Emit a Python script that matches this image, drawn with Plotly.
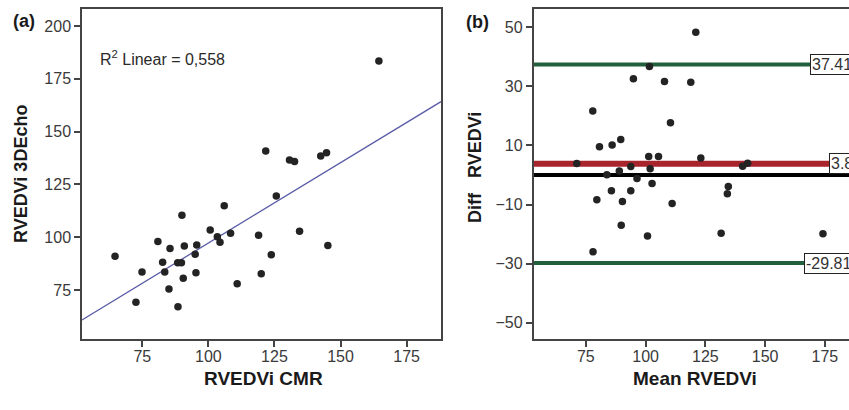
import numpy as np
import plotly.graph_objects as go

# ---- Panel (a): RVEDVi CMR vs RVEDVi 3DEcho ----
cmr_vals = [164.5, 121.7, 130.7, 132.6, 142.5, 144.7, 125.7, 106.0, 90.0, 100.7,
            103.4, 104.4, 108.4, 119.0, 134.5, 145.2, 123.8, 120.0, 110.9, 80.9,
            85.5, 90.9, 95.6, 95.0, 64.7, 82.7, 88.4, 89.8, 74.9, 83.5,
            95.3, 90.5, 85.1, 72.6, 88.5]
echo_vals = [183.4, 140.8, 136.5, 135.8, 138.4, 140.0, 119.5, 114.9, 110.4, 103.4,
             100.2, 97.6, 101.8, 100.9, 102.8, 96.0, 91.7, 82.7, 78.0, 98.0,
             94.6, 95.8, 96.3, 91.9, 91.0, 88.1, 87.9, 87.9, 83.5, 83.5,
             83.2, 80.5, 75.5, 69.2, 67.1]
r2_label = "R<sup>2</sup> Linear = 0,558"

# ---- Panel (b): Bland-Altman ----
mean_vals = [121.0, 101.6, 94.9, 107.9, 118.9, 77.9, 110.4, 89.6, 80.7, 86.0,
             101.3, 105.4, 123.1, 71.2, 93.8, 101.9, 140.6, 142.7, 89.0, 83.8,
             96.4, 102.7, 134.6, 134.2, 85.7, 93.8, 79.6, 90.3, 111.1, 89.8,
             100.8, 131.6, 174.2, 78.0]
diff_vals = [48.3, 36.7, 32.6, 31.7, 31.4, 21.7, 17.7, 12.0, 9.6, 10.2,
             6.3, 6.3, 5.8, 3.9, 2.9, 2.1, 3.0, 4.0, 1.4, 0.1,
             -1.2, -2.9, -3.9, -6.3, -5.3, -5.3, -8.4, -9.0, -9.6, -17.0,
             -20.6, -19.7, -19.9, -26.0]
upper_loa = 37.41
mean_diff = 3.8
lower_loa = -29.81
zero_line = 0
loa_labels = ["37.41", "3.8", "-29.81"]

# axis ticks
a_xticks = [75, 100, 125, 150, 175]
a_yticks = [75, 100, 125, 150, 175, 200]
b_xticks = [75, 100, 125, 150, 175]
b_yticks = [50, 30, 10, -10, -30, -50]
a_xrange = [52.2, 188.0]
a_yrange = [51.8, 208.0]
b_xrange = [53.1, 185.1]
b_yrange = [-55.5, 56.2]

W, H = 849, 410
ML, MR, MT, MB = 0, 0, 9, 71
PH = H - MT - MB

def px(xp):
    return xp / W

def py(yp):
    return (H - MB - yp) / PH

fig = go.Figure()

# regression line (least squares fit of panel a data)
slope, intercept = np.polyfit(cmr_vals, echo_vals, 1)
fit_x = np.array(a_xrange)
fig.add_trace(go.Scatter(x=fit_x, y=slope * fit_x + intercept, mode="lines",
                         line=dict(color="#5a5ca8", width=1.3),
                         xaxis="x", yaxis="y", hoverinfo="skip"))
fig.add_trace(go.Scatter(x=cmr_vals, y=echo_vals, mode="markers",
                         marker=dict(color="#232323", size=7.5),
                         xaxis="x", yaxis="y"))

# Bland-Altman lines
for val, col, w in [(upper_loa, "#22603c", 4), (lower_loa, "#22603c", 4),
                    (mean_diff, "#a8252e", 6), (zero_line, "#000000", 4)]:
    fig.add_trace(go.Scatter(x=b_xrange, y=[val, val], mode="lines",
                             line=dict(color=col, width=w),
                             xaxis="x2", yaxis="y2", hoverinfo="skip"))
fig.add_trace(go.Scatter(x=mean_vals, y=diff_vals, mode="markers",
                         marker=dict(color="#232323", size=7.5),
                         xaxis="x2", yaxis="y2", cliponaxis=False))

tickfont = dict(family="Liberation Sans, Arial", size=16, color="#3a3a3a")
axcommon = dict(showgrid=False, zeroline=False, showline=True, linecolor="#444",
                linewidth=1.5, ticks="outside", ticklen=6, tickwidth=1.5,
                tickcolor="#444", tickfont=tickfont)

fig.update_layout(
    width=W, height=H,
    margin=dict(l=ML, r=MR, t=MT, b=MB),
    paper_bgcolor="white", plot_bgcolor="white",
    showlegend=False,
    xaxis=dict(domain=[px(82), px(441)], range=a_xrange, tickvals=a_xticks,
               mirror=True, anchor="y", ticklabelstandoff=-4, **axcommon),
    yaxis=dict(domain=[0, 1], range=a_yrange, tickvals=a_yticks,
               mirror=True, anchor="x", **axcommon),
    xaxis2=dict(domain=[px(533.5), 1.0], range=b_xrange, tickvals=b_xticks,
                mirror=True, anchor="y2", ticklabelstandoff=-4, **axcommon),
    yaxis2=dict(domain=[0, 1], range=b_yrange, tickvals=b_yticks,
                mirror=False, anchor="x2", **axcommon),
)

bold = dict(family="Liberation Sans, Arial", size=19, color="#1a1a1a")
ann = []
ann.append(dict(text="<b>(a)</b>", x=px(11), y=py(21), xref="paper", yref="paper",
                xanchor="left", yanchor="middle", showarrow=False,
                font=dict(family="Liberation Sans, Arial", size=18, color="#1a1a1a")))
ann.append(dict(text="<b>(b)</b>", x=px(464), y=py(22), xref="paper", yref="paper",
                xanchor="left", yanchor="middle", showarrow=False,
                font=dict(family="Liberation Sans, Arial", size=18, color="#1a1a1a")))
ann.append(dict(text="<b>RVEDVi CMR</b>", x=px(263), y=py(379), xref="paper", yref="paper",
                xanchor="center", yanchor="middle", showarrow=False, font=bold))
ann.append(dict(text="<b>Mean RVEDVi</b>", x=px(695), y=py(379), xref="paper", yref="paper",
                xanchor="center", yanchor="middle", showarrow=False, font=bold))
ann.append(dict(text="<b>RVEDVi 3DEcho</b>", x=px(21), y=py(174), xref="paper", yref="paper",
                xanchor="center", yanchor="middle", textangle=-90, showarrow=False,
                font=dict(family="Liberation Sans, Arial", size=18, color="#1a1a1a")))
ann.append(dict(text="<b>Diff\u00a0\u00a0\u00a0RVEDVi</b>", x=px(475), y=py(168),
                xref="paper", yref="paper", xanchor="center", yanchor="middle",
                textangle=-90, showarrow=False,
                font=dict(family="Liberation Sans, Arial", size=18, color="#1a1a1a")))
ann.append(dict(text=r2_label, x=px(98), y=py(58), xref="paper", yref="paper",
                xanchor="left", yanchor="middle", showarrow=False,
                font=dict(family="Liberation Sans, Arial", size=16, color="#2a2a2a")))

label_left = [810, 829, 804]
for val, lab, lx in zip([upper_loa, mean_diff, lower_loa], loa_labels, label_left):
    ann.append(dict(text=lab, x=px(lx), y=val, xref="paper", yref="y2",
                    xanchor="left", yanchor="middle", showarrow=False,
                    bgcolor="white", bordercolor="#222", borderwidth=1, borderpad=1,
                    font=dict(family="Liberation Sans, Arial", size=16, color="#333")))

fig.update_layout(annotations=ann)
fig.write_html("out.html", config={"displayModeBar": False},
               post_script="document.body.style.margin='0px';")
